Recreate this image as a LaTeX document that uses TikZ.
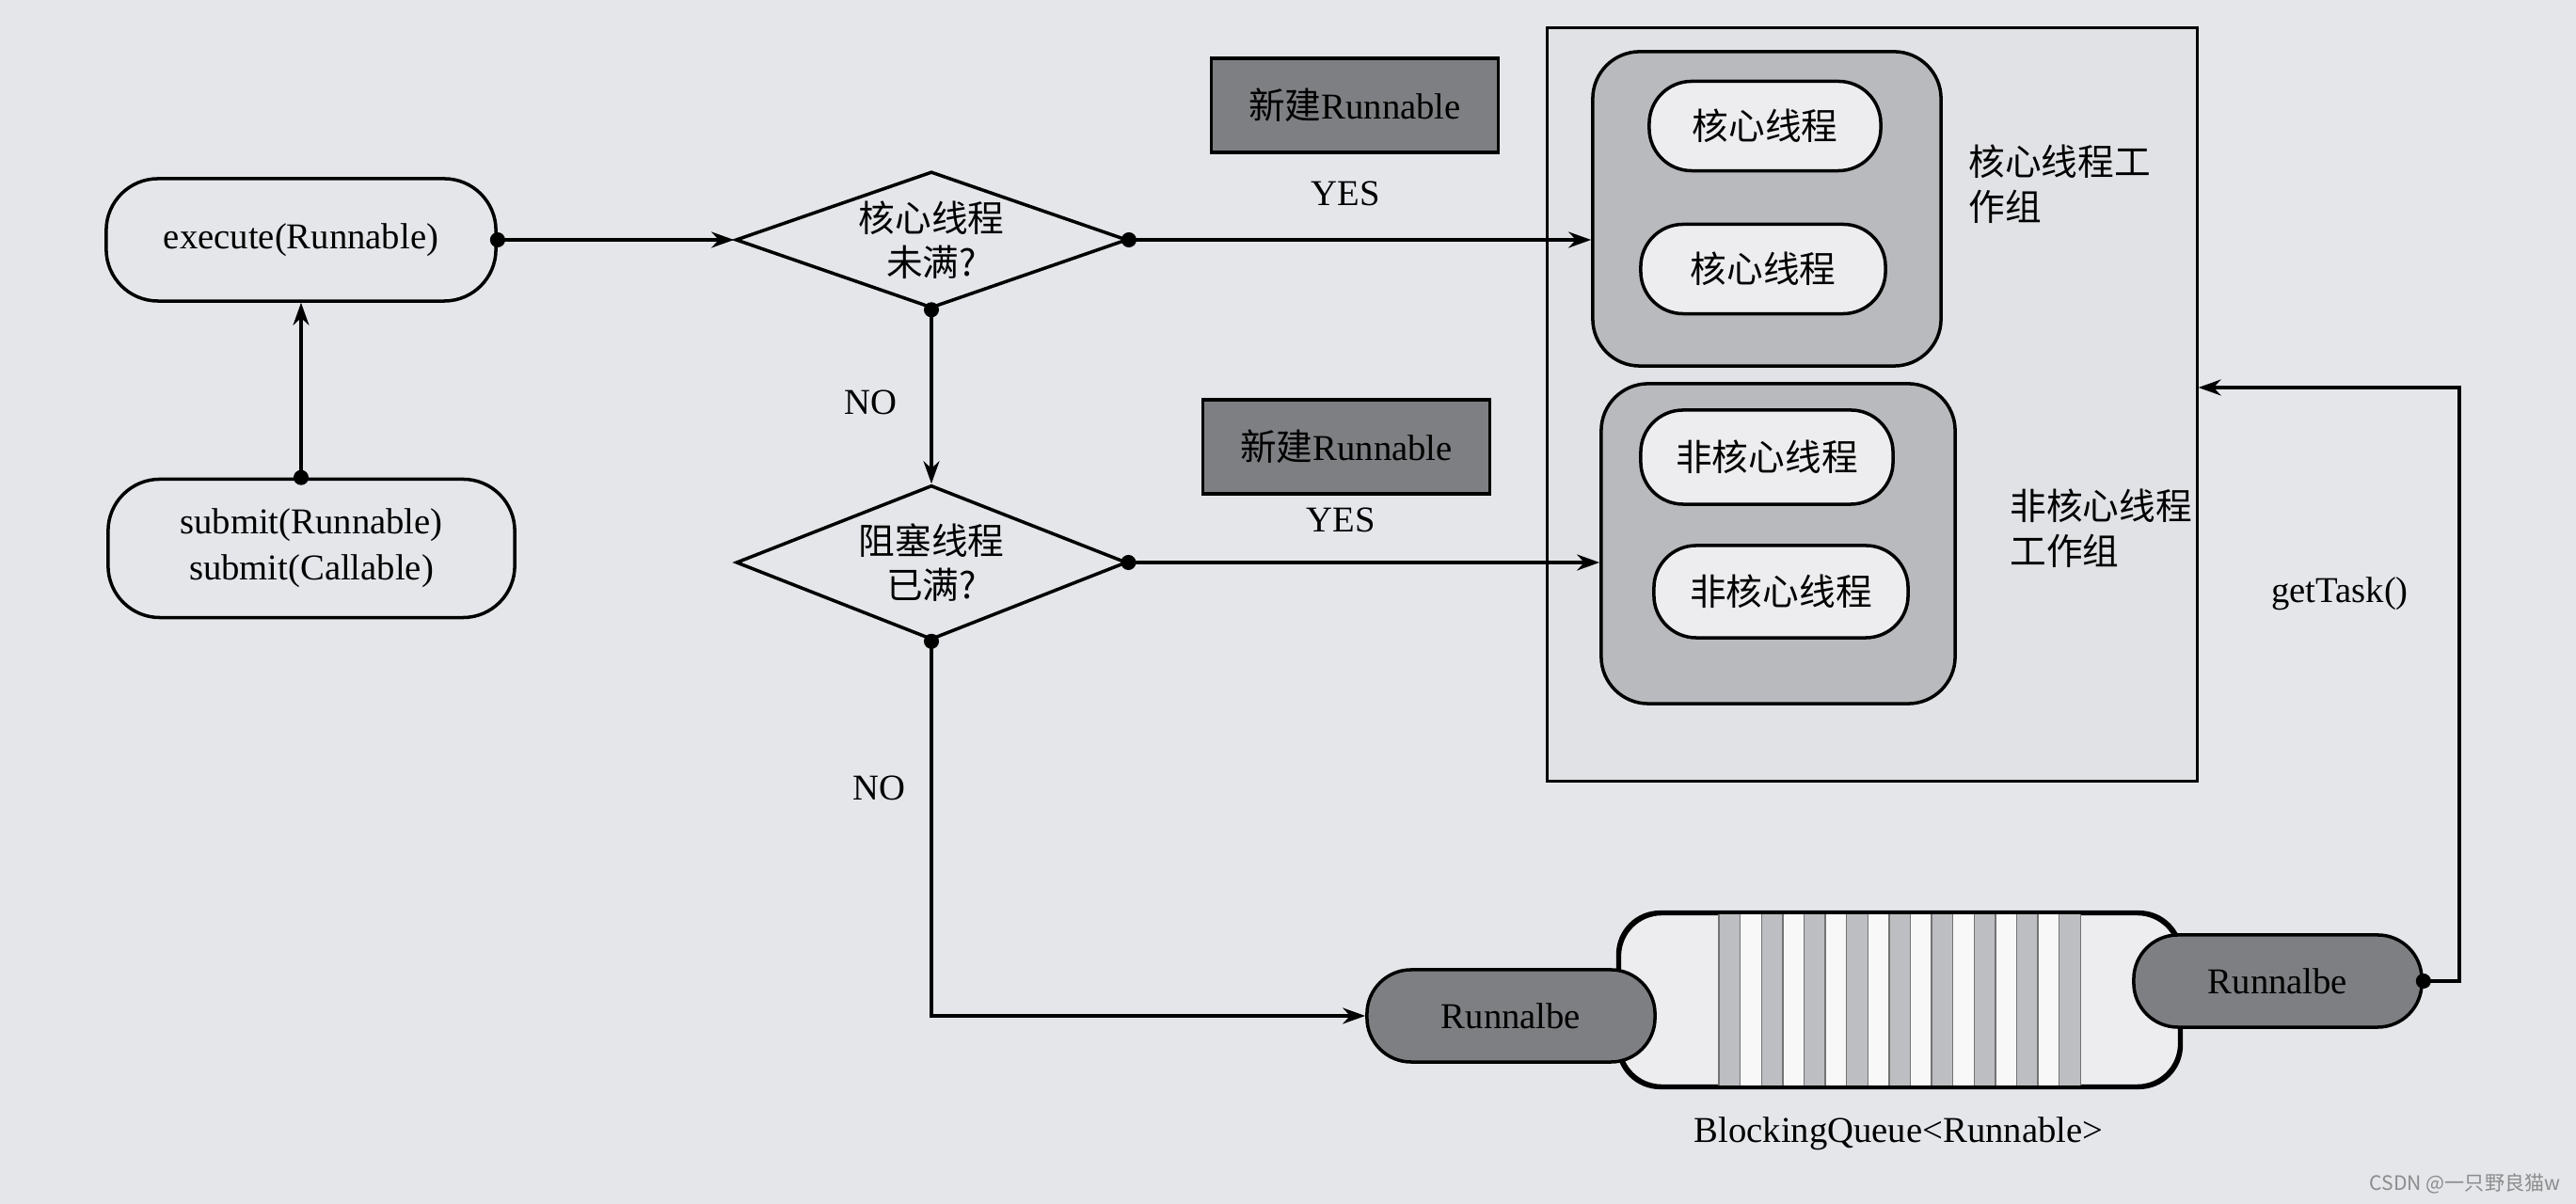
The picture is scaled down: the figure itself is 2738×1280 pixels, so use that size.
\documentclass[tikz,border=0pt]{standalone}
\usepackage{fontspec}
\setmainfont{Liberation Serif}
\newfontfamily\cjk{Noto Sans CJK SC}
\usepackage{tikz}
\usetikzlibrary{arrows.meta,shapes.geometric}
\definecolor{paper}{HTML}{E4E6EA}
\definecolor{poolc}{HTML}{E1E2E6}
\definecolor{grpc}{HTML}{B9BABD}
\definecolor{thrc}{HTML}{EDEDEF}
\definecolor{darkc}{HTML}{7E7F82}
\definecolor{stripc}{HTML}{BDBEC1}
\tikzset{
  dotflow/.style={{Circle[length=1.6mm]}-{Stealth[length=2.4mm,width=1.7mm]},shorten <=-0.8mm,line width=0.9pt},
  pill/.style={draw,line width=1pt,rounded corners=0.55cm,fill=paper,align=center,font=\fontsize{11}{14}\selectfont},
  decide/.style={diamond,draw,line width=1pt,aspect=2.9,inner sep=0pt,fill=paper,align=center,font=\cjk\fontsize{11}{13.5}\selectfont},
  newbox/.style={draw,line width=1pt,fill=darkc,minimum width=3.05cm,minimum height=1cm,font=\fontsize{11}{13}\selectfont},
  grp/.style={draw,line width=1pt,rounded corners=0.5cm,fill=grpc},
  thr/.style={draw,line width=1pt,rounded corners=0.45cm,fill=thrc,font=\cjk\fontsize{11}{13}\selectfont},
  task/.style={draw,line width=1pt,rounded corners=0.47cm,fill=darkc,minimum width=3.06cm,minimum height=0.98cm,font=\fontsize{11}{13}\selectfont},
  lbl/.style={font=\fontsize{11}{13}\selectfont}
}
\newcommand{\zh}[1]{{\cjk #1}}
\begin{document}
\begin{tikzpicture}[x=0.01cm,y=-0.01cm]
\fill[paper] (0,0) rectangle (2738,1280);
\useasboundingbox (0,0) rectangle (2738,1280);
% entry points
\node[pill,minimum width=4.14cm,minimum height=1.3cm] (exec) at (320,255) {execute(Runnable)};
\node[pill,minimum width=4.32cm,minimum height=1.47cm] (submit) at (331,583) {submit(Runnable)\\submit(Callable)};
% decisions
\node[decide,minimum width=4.16cm,minimum height=1.45cm] (coreq) at (990,255) {核心线程\\未满?};
\node[decide,minimum width=4.15cm,minimum height=1.64cm] (fullq) at (990,598) {阻塞线程\\已满?};
\node[newbox] (new1) at (1440,112) {\zh{新建}Runnable};
\node[newbox] (new2) at (1431,475) {\zh{新建}Runnable};
\node[lbl] (yes1) at (1430,206) {YES};
\node[lbl] (yes2) at (1425,553) {YES};
\node[lbl] (no1) at (925,428) {NO};
\node[lbl] (no2) at (934,838) {NO};
% thread pool
\node[draw,line width=0.8pt,fill=poolc,minimum width=6.9cm,minimum height=8cm] (pool) at (1990,430) {};
\node[grp,minimum width=3.7cm,minimum height=3.34cm] (cgrp) at (1878,222) {};
\node[grp,minimum width=3.76cm,minimum height=3.4cm] (ncgrp) at (1890,578) {};
\node[thr,minimum width=2.46cm,minimum height=0.95cm] (ct1) at (1876,134) {核心线程};
\node[thr,minimum width=2.6cm,minimum height=0.95cm] (ct2) at (1874,286) {核心线程};
\node[thr,minimum width=2.68cm,minimum height=1cm] (nt1) at (1878,486) {非核心线程};
\node[thr,minimum width=2.7cm,minimum height=0.98cm] (nt2) at (1893,629) {非核心线程};
\node[anchor=west,align=left,font=\cjk\fontsize{11}{13.6}\selectfont] (cglab) at (2080,196) {核心线程工\\作组};
\node[anchor=west,align=left,font=\cjk\fontsize{11}{13.6}\selectfont] (nglab) at (2124,562) {非核心线程\\工作组};
% blocking queue
\node[draw,line width=1pt,rounded corners=0.45cm,fill=thrc,minimum width=5.95cm,minimum height=1.83cm] (queue) at (2019,1063) {};
\fill[white!60!thrc] (1827,972) rectangle (2211,1154);
\foreach \i in {0,2,...,16}
  \fill[stripc] ({1827+22.6*\i},972) rectangle ({1849.6+22.6*\i},1154);
\foreach \i in {0,...,17}
  \draw[line width=0.4pt,black!55] ({1827+22.6*\i},972) -- ({1827+22.6*\i},1154);
\draw[line width=1pt,rounded corners=0.45cm] (queue.north west) rectangle (queue.south east);
\node[task] (rin) at (1606,1080) {Runnalbe};
\node[task] (rout) at (2421,1043) {Runnalbe};
\node[lbl] (qlab) at (2018,1205) {BlockingQueue<Runnable>};
\node[lbl] (gtlab) at (2487,631) {getTask()};
% connectors
\draw[dotflow] (submit.north -| exec.south) -- (exec.south);
\draw[dotflow] (exec.east) -- (coreq.west);
\draw[dotflow] (coreq.east) -- (coreq.east -| cgrp.west);
\draw[dotflow] (coreq.south) -- (fullq.north);
\draw[dotflow] (fullq.east) -- (fullq.east -| ncgrp.west);
\draw[dotflow] (fullq.south) |- (rin.west);
\coordinate (turn) at (2614,412);
\draw[dotflow] (rout.east) -| (turn) -- (turn -| pool.east);
\node[anchor=east,inner sep=0pt,font=\cjk\fontsize{6}{7}\selectfont,text=black!45] (mark) at (2722,1258) {CSDN @一只野良猫w};
\end{tikzpicture}
\end{document}
